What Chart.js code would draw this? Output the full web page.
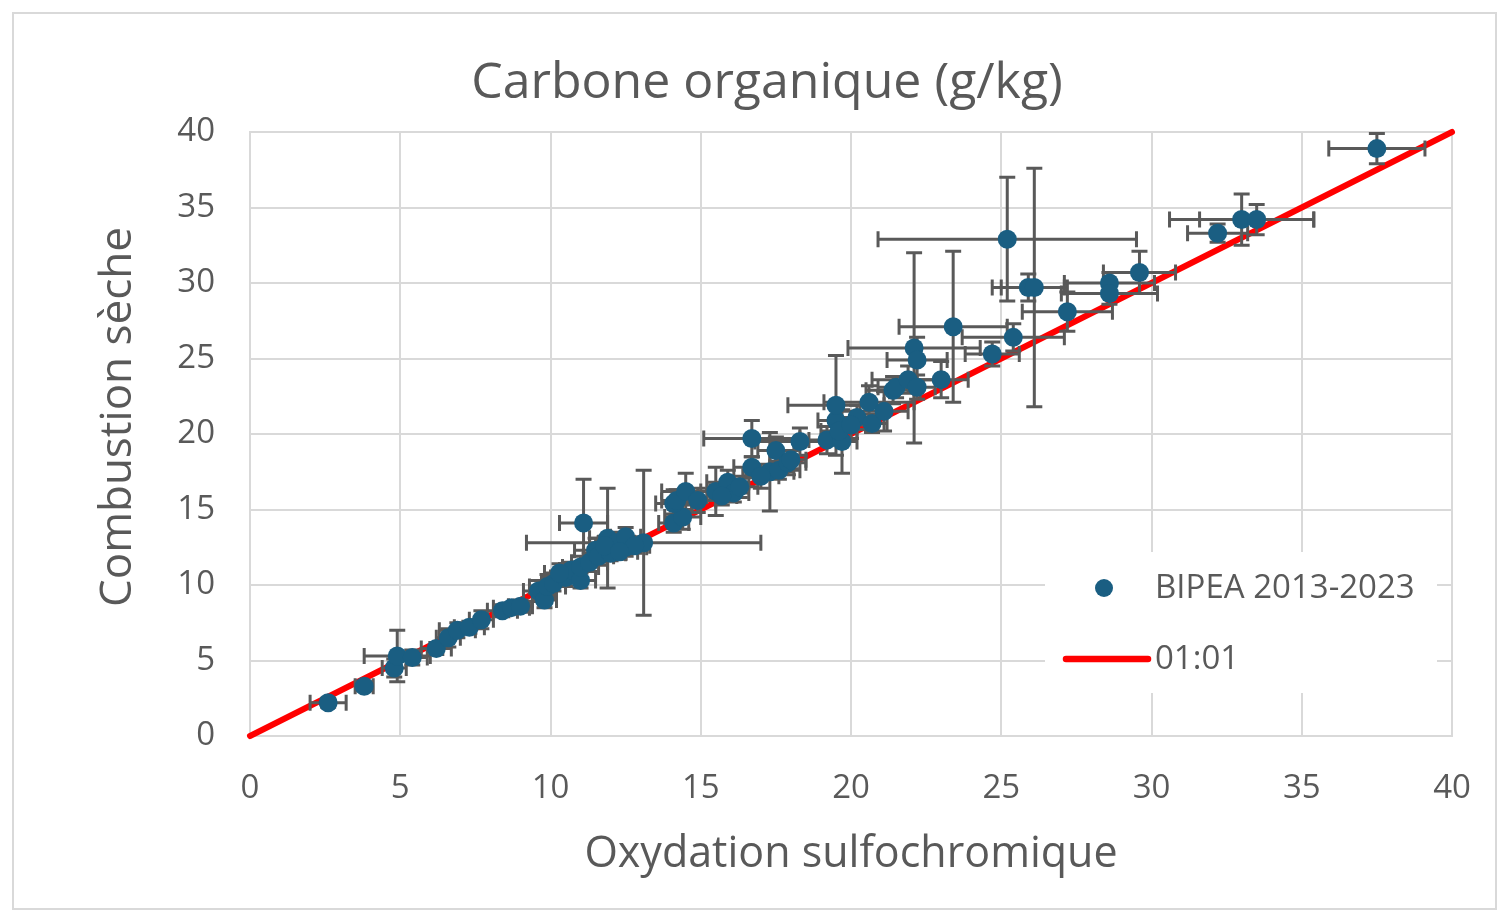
<!DOCTYPE html>
<html>
<head>
<meta charset="utf-8">
<script src="https://cdn.jsdelivr.net/npm/chart.js@4.4.1/dist/chart.umd.min.js"></script>
<style>
  html, body { margin: 0; padding: 0; background: #ffffff; }
  #wrap {
    position: absolute;
    left: 12px; top: 12px;
    width: 1481px; height: 894px;
    border: 2px solid #d9d9d9;
  }
  #chartCarbone { display: block; }
</style>
</head>
<body>
<div id="wrap"><canvas id="chartCarbone" width="1481" height="894"></canvas></div>
<script>
// --- data ---
const oxydation = [2.6, 3.8, 4.8, 4.9, 5.4, 6.2, 6.6, 6.9, 7.3, 7.7, 8.4, 8.7, 9.0, 9.6, 9.8, 9.9, 10.1, 10.5, 10.7, 11.0,
  11.0, 11.1, 11.3, 11.5, 11.6, 11.9, 12.0, 12.2, 12.5, 12.5, 13.1, 12.8, 14.1, 14.4, 14.1, 14.2, 14.5, 14.9, 15.5, 15.9,
  16.1, 17.3, 16.7, 16.7, 17.5, 17.6, 17.9, 18.3, 19.2, 19.7, 19.5, 19.5, 20.2, 20.6, 20.7, 21.1, 21.4, 21.5, 21.9, 22.1,
  22.2, 22.2, 23.0, 23.4, 24.7, 25.4, 25.2, 25.9, 26.1, 27.2, 28.6, 28.6, 29.6, 32.2, 33.0, 33.5, 37.5,
  16.3, 15.7, 17.0, 18.0, 19.6, 20.0, 10.3, 11.8, 12.3];
const combustion = [2.2, 3.3, 4.5, 5.3, 5.2, 5.8, 6.5, 7.0, 7.2, 7.7, 8.3, 8.5, 8.6, 9.6, 9.0, 9.9, 10.1, 10.5, 11.0, 10.3,
  11.2, 14.1, 11.5, 12.3, 11.9, 13.1, 12.1, 12.8, 12.5, 13.2, 12.8, 12.6, 14.1, 14.5, 15.4, 15.6, 16.2, 15.6, 16.2, 16.8,
  16.1, 17.5, 17.8, 19.7, 18.9, 17.6, 18.1, 19.5, 19.6, 19.5, 20.9, 21.9, 21.1, 22.1, 20.7, 21.5, 22.9, 23.1, 23.6, 25.7,
  24.9, 23.1, 23.6, 27.1, 25.3, 26.4, 32.9, 29.7, 29.7, 28.1, 30.0, 29.3, 30.7, 33.3, 34.2, 34.2, 38.9,
  16.5, 15.9, 17.2, 18.3, 20.2, 20.6, 10.8, 12.6, 12.2];
const errOxydation = [0.6, 0.3, 0.4, 1.1, 0.5, 0.5, 0.4, 0.6, 0.5, 0.4, 0.5, 0.6, 0.4, 0.5, 0.4, 0.6, 0.4, 0.5, 0.4, 0.5,
  0.6, 0.8, 0.6, 0.7, 0.5, 0.6, 0.5, 0.6, 0.7, 0.5, 3.9, 0.5, 0.5, 0.6, 0.6, 0.5, 0.8, 0.6, 0.5, 0.7,
  0.5, 0.8, 0.6, 1.6, 0.6, 0.7, 0.6, 1.5, 0.6, 0.5, 0.6, 1.6, 0.7, 1.5, 0.5, 0.8, 0.9, 0.6, 1.2, 2.2,
  1.0, 0.6, 0.9, 1.8, 0.9, 1.7, 4.3, 1.2, 1.1, 1.5, 1.5, 1.6, 1.2, 1.0, 2.4, 1.9, 1.6,
  0.6, 0.5, 0.6, 0.5, 0.6, 0.5, 0.5, 0.5, 0.6];
const errCombustion = [0.3, 0.3, 0.6, 1.7, 0.5, 0.4, 0.6, 0.5, 0.4, 0.6, 0.4, 0.3, 0.4, 0.7, 0.5, 0.8, 0.5, 0.6, 0.5, 0.5,
  0.7, 2.9, 0.6, 0.8, 0.6, 3.3, 0.5, 0.7, 0.6, 0.6, 4.8, 0.5, 0.6, 0.8, 0.9, 0.7, 1.2, 0.8, 1.6, 0.8,
  0.6, 2.6, 0.7, 1.2, 0.9, 0.6, 0.8, 0.9, 0.9, 2.1, 0.8, 3.3, 0.8, 1.1, 0.6, 1.3, 0.9, 0.7, 0.9, 6.3,
  1.5, 0.8, 1.2, 5.0, 0.8, 0.9, 4.1, 0.9, 7.9, 1.3, 0.7, 0.7, 1.4, 0.6, 1.7, 1.0, 1.0,
  0.7, 0.6, 0.8, 0.6, 0.7, 0.9, 0.6, 0.6, 0.5];
const ligneX = [0, 40];
const ligneY = [0, 40];
const axisTicks = [0, 5, 10, 15, 20, 25, 30, 35, 40];
const yTitle = "Combustion sèche";

const textColor = "#595959";
const fontFamily = "'Open Sans', 'Noto Sans', sans-serif";

// error bars, drawn just before the scatter dataset (so markers stay on top)
const errorBarsPlugin = {
    id: "errorBars",
    beforeDatasetDraw(chart, args) {
        if (args.index !== 0) return;
        let xs = chart.scales.x;
        let ys = chart.scales.y;
        let ctx = chart.ctx;
        let cap = 8;
        ctx.save();
        ctx.strokeStyle = "#595959";
        ctx.lineWidth = 3;
        for (let i = 0; i < oxydation.length; i++) {
            let px = xs.getPixelForValue(oxydation[i]);
            let py = ys.getPixelForValue(combustion[i]);
            let x1 = xs.getPixelForValue(oxydation[i] - errOxydation[i]);
            let x2 = xs.getPixelForValue(oxydation[i] + errOxydation[i]);
            let y1 = ys.getPixelForValue(combustion[i] - errCombustion[i]);
            let y2 = ys.getPixelForValue(combustion[i] + errCombustion[i]);
            ctx.beginPath();
            ctx.moveTo(x1, py); ctx.lineTo(x2, py);
            ctx.moveTo(x1, py - cap); ctx.lineTo(x1, py + cap);
            ctx.moveTo(x2, py - cap); ctx.lineTo(x2, py + cap);
            ctx.moveTo(px, y1); ctx.lineTo(px, y2);
            ctx.moveTo(px - cap, y1); ctx.lineTo(px + cap, y1);
            ctx.moveTo(px - cap, y2); ctx.lineTo(px + cap, y2);
            ctx.stroke();
        }
        ctx.restore();
    }
};

// y axis title, sitting a bit above the plot's middle as in Excel
const yTitlePlugin = {
    id: "yTitle",
    afterDraw(chart) {
        let ctx = chart.ctx;
        ctx.save();
        ctx.translate(104, 403);
        ctx.rotate(-Math.PI / 2);
        ctx.fillStyle = textColor;
        ctx.font = "44px " + fontFamily;
        ctx.textAlign = "center";
        ctx.textBaseline = "middle";
        ctx.fillText(yTitle, 0, 0);
        ctx.restore();
    }
};

// legend box inside the plot, bottom right, like the original
const insideLegendPlugin = {
    id: "insideLegend",
    afterDatasetsDraw(chart) {
        let a = chart.chartArea;
        let ctx = chart.ctx;
        let w = 392, h = 141;
        let bx = a.right - 15 - w;
        let by = a.bottom - 43 - h;
        ctx.save();
        ctx.fillStyle = "#ffffff";
        ctx.fillRect(bx, by, w, h);

        let ds0 = chart.data.datasets[0];
        let ds1 = chart.data.datasets[1];

        ctx.fillStyle = ds0.backgroundColor;
        ctx.beginPath();
        ctx.arc(bx + 59, by + 36, 9, 0, Math.PI * 2);
        ctx.fill();

        ctx.strokeStyle = ds1.borderColor;
        ctx.lineWidth = 6.5;
        ctx.lineCap = "round";
        ctx.beginPath();
        ctx.moveTo(bx + 21, by + 107);
        ctx.lineTo(bx + 103, by + 107);
        ctx.stroke();

        ctx.fillStyle = textColor;
        ctx.font = "33px " + fontFamily;
        ctx.textBaseline = "middle";
        ctx.textAlign = "left";
        ctx.fillText(ds0.label, bx + 110, by + 37);
        ctx.fillText(ds1.label, bx + 110, by + 108);
        ctx.restore();
    }
};

let ctx = document.getElementById("chartCarbone");

new Chart(ctx, {
    type: "scatter",
    data: {
        datasets: [
            {
                label: "BIPEA 2013-2023",
                data: oxydation.map((v, i) => ({ x: v, y: combustion[i] })),
                backgroundColor: "#1A5E82",
                borderWidth: 0,
                pointRadius: 9.5,
                order: 1
            },
            {
                label: "01:01",
                type: "line",
                data: ligneX.map((v, i) => ({ x: v, y: ligneY[i] })),
                borderColor: "#ff0000",
                borderWidth: 6,
                borderCapStyle: "round",
                pointRadius: 0,
                fill: false,
                clip: false,
                order: 2
            }
        ]
    },
    options: {
        responsive: false,
        maintainAspectRatio: false,
        animation: false,
        devicePixelRatio: 1,
        layout: { padding: { left: 68, right: 43, top: 0, bottom: 0 } },
        plugins: {
            legend: { display: false },
            tooltip: { enabled: false },
            title: {
                display: true,
                text: "Carbone organique (g/kg)",
                color: textColor,
                font: { family: fontFamily, size: 50, weight: "normal" },
                padding: { top: 40, bottom: 18 }
            }
        },
        scales: {
            x: {
                type: "linear",
                min: 0,
                max: 40,
                afterBuildTicks: s => { s.ticks = axisTicks.map(v => ({ value: v })); },
                afterFit: s => { s.height = 172; s.paddingLeft = 0; s.paddingRight = 0; },
                ticks: {
                    color: textColor,
                    font: { family: fontFamily, size: 33 },
                    padding: 33,
                    maxRotation: 0
                },
                grid: { color: "#d9d9d9", lineWidth: 2, drawTicks: false },
                border: { color: "#d9d9d9", width: 2 },
                title: {
                    display: true,
                    text: "Oxydation sulfochromique",
                    color: textColor,
                    font: { family: fontFamily, size: 43 },
                    padding: { top: 0, bottom: 27 }
                }
            },
            y: {
                type: "linear",
                min: 0,
                max: 40,
                afterBuildTicks: s => { s.ticks = axisTicks.map(v => ({ value: v })); },
                afterFit: s => { s.width = 168; },
                ticks: {
                    color: textColor,
                    font: { family: fontFamily, size: 33 },
                    padding: 35
                },
                grid: { color: "#d9d9d9", lineWidth: 2, drawTicks: false },
                border: { color: "#d9d9d9", width: 2 }
            }
        }
    },
    plugins: [errorBarsPlugin, yTitlePlugin, insideLegendPlugin]
});
</script>
</body>
</html>
